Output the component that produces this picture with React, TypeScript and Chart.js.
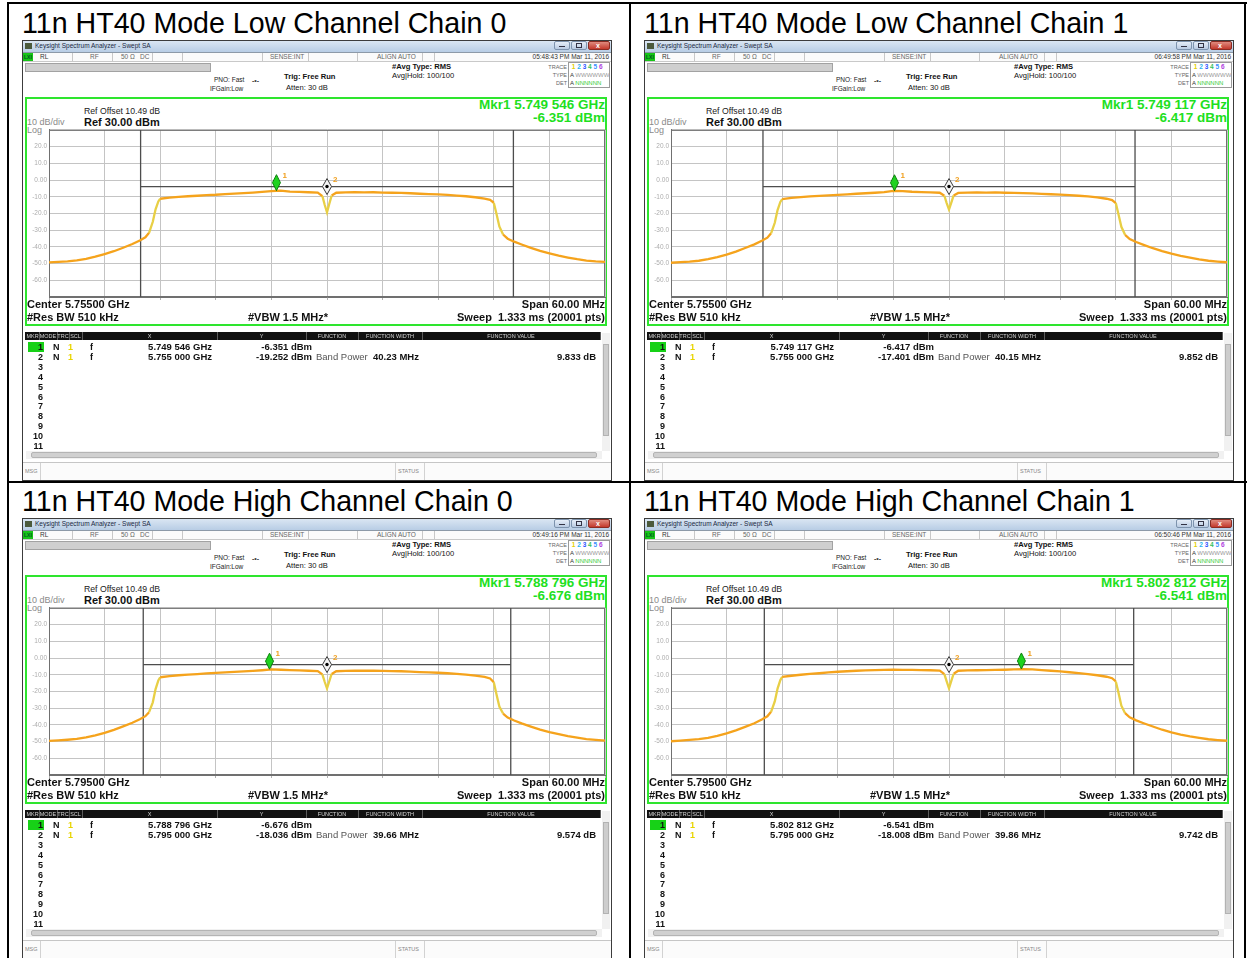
import React, { useEffect, useRef } from "react";
import { Chart, registerables } from "chart.js";
Chart.register(...registerables);

const FONT = '"Liberation Sans", Arial, Helvetica, sans-serif';

// ---------- panel meta ----------
const PANEL_TITLES = [
  "11n HT40 Mode Low Channel Chain 0",
  "11n HT40 Mode Low Channel Chain 1",
  "11n HT40 Mode High Channel Chain 0",
  "11n HT40 Mode High Channel Chain 1",
];
const CENTER_GHZ = [5.755, 5.755, 5.795, 5.795];
const TIMESTAMPS = [
  "05:48:43 PM Mar 11, 2016",
  "06:49:58 PM Mar 11, 2016",
  "05:49:16 PM Mar 11, 2016",
  "06:50:46 PM Mar 11, 2016",
];
const MKR1_FREQ_GHZ = [5.749546, 5.749117, 5.788796, 5.802812];
const MKR1_LEVEL_DBM = [-6.351, -6.417, -6.676, -6.541];
const MKR2_FREQ_GHZ = [5.755, 5.755, 5.795, 5.795];
const MKR2_LEVEL_DBM = [-19.252, -17.401, -18.036, -18.008];
const BAND_WIDTH_MHZ = [40.23, 40.15, 39.66, 39.86];
const BAND_POWER_DB = [9.833, 9.852, 9.574, 9.742];
const BAND_LINE_DBM = [-3.9, -3.9, -3.9, -3.9];
const SPAN_MHZ = 60;
const REF_LEVEL_DBM = 30;
const DB_PER_DIV = 10;
const Y_TICK_VALUES = [20, 10, 0, -10, -20, -30, -40, -50, -60];
const Y_TICK_LABELS = ["20.0", "10.0", "0.00", "-10.0", "-20.0", "-30.0", "-40.0", "-50.0", "-60.0"];

// ---------- trace data (offset from centre, MHz) ----------
const OFFSETS_MHZ = [
  -30, -29, -28, -27, -26, -25, -24, -23, -22, -21,
  -20.2, -19.6, -19.2, -18.8, -18.5, -18.2, -18,
  -17, -16, -15, -14, -13, -12, -11, -10, -9, -8, -7, -6, -5, -4, -3, -2, -1,
  -0.5, -0.25, 0, 0.25, 0.5,
  1, 2, 3, 4, 5, 6, 7, 8, 9, 10, 11, 12, 13, 14, 15, 16, 17,
  17.6, 18, 18.3, 18.6, 19, 19.5, 20.2,
  21, 22, 23, 24, 25, 26, 27, 28, 29, 30,
];
const TL_LEVELS = [
  -49.3, -49.0, -48.7, -48.1, -47.2, -45.9, -44.3, -42.6, -40.5, -38.3,
  -36.2, -34.3, -31.6, -25.0, -17.5, -12.8, -11.2,
  -10.5, -10.1, -9.7, -9.4, -9.0, -8.8, -8.4, -8.1, -7.8, -7.5, -7.1, -6.6, -6.4, -6.9, -7.1, -7.3, -7.5,
  -9.6, -14.8, -19.3, -14.2, -9.3,
  -7.6, -7.4, -7.3, -7.4, -7.3, -7.5, -7.6, -7.7, -7.9, -8.2, -8.4, -8.6, -8.9, -9.3, -9.7, -10.3, -11.1,
  -11.9, -13.6, -20.5, -27.8, -32.6, -35.1, -36.9,
  -38.6, -40.6, -42.4, -43.9, -45.3, -46.4, -47.4, -48.2, -48.7, -49.0,
];
const TR_LEVELS = [
  -49.5, -49.1, -48.8, -48.3, -47.4, -46.1, -44.6, -42.8, -40.7, -38.5,
  -36.4, -34.5, -31.9, -25.6, -18.0, -13.1, -11.4,
  -10.7, -10.2, -9.8, -9.5, -9.2, -8.9, -8.6, -8.2, -7.9, -7.6, -7.2, -6.5, -6.6, -7.0, -7.2, -7.4, -7.6,
  -9.4, -13.8, -17.6, -13.5, -9.2,
  -7.7, -7.5, -7.4, -7.5, -7.4, -7.6, -7.7, -7.8, -8.0, -8.3, -8.5, -8.7, -9.0, -9.4, -9.8, -10.4, -11.2,
  -12.0, -13.8, -20.8, -28.0, -32.8, -35.3, -37.1,
  -38.8, -40.8, -42.6, -44.1, -45.4, -46.5, -47.5, -48.3, -48.8, -49.2,
];
const BL_LEVELS = [
  -49.6, -49.3, -48.9, -48.4, -47.5, -46.3, -44.8, -43.0, -40.9, -38.7,
  -36.6, -34.8, -32.4, -26.5, -18.6, -13.4, -11.5,
  -10.8, -10.3, -9.9, -9.6, -9.2, -8.9, -8.6, -8.3, -8.0, -7.7, -7.3, -6.8, -7.0, -7.2, -7.4, -7.6, -7.8,
  -9.8, -14.2, -18.2, -13.9, -9.5,
  -7.9, -7.7, -7.6, -7.6, -7.5, -7.7, -7.8, -7.9, -8.1, -8.4, -8.6, -8.8, -9.1, -9.5, -9.9, -10.5, -11.3,
  -12.2, -14.5, -22.0, -29.0, -33.2, -35.6, -37.4,
  -39.1, -41.0, -42.8, -44.3, -45.6, -46.8, -47.7, -48.5, -49.0, -49.4,
];
const BR_LEVELS = [
  -49.8, -49.4, -49.0, -48.5, -47.8, -46.6, -45.1, -43.3, -41.2, -39.0,
  -36.8, -34.9, -32.2, -26.0, -18.3, -13.2, -11.3,
  -10.6, -10.0, -9.5, -9.1, -8.6, -8.2, -7.9, -7.6, -7.4, -7.2, -7.1, -7.0, -7.1, -7.1, -7.2, -7.3, -7.5,
  -9.6, -14.0, -18.1, -13.7, -9.4,
  -7.6, -7.4, -7.3, -7.2, -7.1, -7.0, -6.8, -6.6, -6.8, -7.2, -7.6, -8.0, -8.5, -9.0, -9.6, -10.3, -11.2,
  -12.1, -14.0, -21.0, -28.5, -33.0, -35.5, -37.3,
  -39.0, -41.0, -42.9, -44.5, -45.8, -46.9, -47.8, -48.6, -49.1, -49.5,
];
const LEVELS = [TL_LEVELS, TR_LEVELS, BL_LEVELS, BR_LEVELS];

// ---------- layout ----------
const WINDOW_ORIGINS: [number, number][] = [[22, 40], [644, 40], [22, 518], [644, 518]];
const W = 590;
const H = 441;

const fmtGHz = (v: number) => {
  const s = v.toFixed(6);
  return `${s.slice(0, 5)} ${s.slice(5)} GHz`;
};
const fmtDbm = (v: number) => `${v.toFixed(3)} dBm`;
const fmtCenter = (v: number) => `${v.toFixed(5)} GHz`;

type TP = {
  x: number; y: number; s: number; b?: boolean; c?: string; r?: boolean; children: React.ReactNode;
};
function T({ x, y, s, b, c = "#111", r, children }: TP) {
  const lh = Math.round(s * 1.3);
  const style: React.CSSProperties = {
    position: "absolute", top: y - lh / 2, fontSize: s, lineHeight: `${lh}px`,
    fontWeight: b ? 700 : 400, color: c, whiteSpace: "pre", fontFamily: FONT,
  };
  if (r) style.right = W - x; else style.left = x;
  return <div style={style}>{children}</div>;
}

function Box(p: { l: number; t: number; w: number; h: number; bg?: string; bd?: string; extra?: React.CSSProperties }) {
  return (
    <div style={{
      position: "absolute", left: p.l, top: p.t, width: p.w, height: p.h, background: p.bg,
      border: p.bd, boxSizing: "border-box", ...(p.extra || {}),
    }} />
  );
}

function Trace({ i }: { i: number }) {
  const ref = useRef<HTMLCanvasElement>(null);
  useEffect(() => {
    const levels = LEVELS[i];
    const half = BAND_WIDTH_MHZ[i] / 2;
    const m1x = (MKR1_FREQ_GHZ[i] - CENTER_GHZ[i]) * 1000;
    const m2x = (MKR2_FREQ_GHZ[i] - CENTER_GHZ[i]) * 1000;
    const top = REF_LEVEL_DBM;
    const bottom = REF_LEVEL_DBM - DB_PER_DIV * 10;
    const ORANGE = "#f5a31c";
    const YELLOW = "#e8cf45";
    const BAND = "#4d4d4d";

    const overlay = {
      id: "overlay",
      beforeDatasetsDraw(chart: any) {
        const { ctx, chartArea: a } = chart;
        ctx.save();
        ctx.strokeStyle = "#707070";
        ctx.lineWidth = 1;
        ctx.strokeRect(a.left + 0.5, a.top + 0.5, a.right - a.left - 1, a.bottom - a.top - 1);
        ctx.restore();
      },
      afterDatasetsDraw(chart: any) {
        const { ctx, scales } = chart;
        const x = scales.x, y = scales.y;
        ctx.save();
        const px = x.getPixelForValue(m1x);
        const py = y.getPixelForValue(MKR1_LEVEL_DBM[i]);
        ctx.beginPath();
        ctx.moveTo(px, py - 16);
        ctx.lineTo(px + 4, py - 8);
        ctx.lineTo(px, py);
        ctx.lineTo(px - 4, py - 8);
        ctx.closePath();
        ctx.fillStyle = "#1fd21f";
        ctx.fill();
        ctx.strokeStyle = "#0d800d";
        ctx.lineWidth = 1;
        ctx.stroke();
        ctx.fillStyle = "#f0a020";
        ctx.font = `bold 8px ${FONT}`;
        ctx.textBaseline = "middle";
        ctx.fillText("1", px + 6, py - 15);
        const qx = x.getPixelForValue(m2x);
        const qy = y.getPixelForValue(BAND_LINE_DBM[i]);
        ctx.beginPath();
        ctx.moveTo(qx, qy - 8);
        ctx.lineTo(qx + 4.5, qy);
        ctx.lineTo(qx, qy + 8);
        ctx.lineTo(qx - 4.5, qy);
        ctx.closePath();
        ctx.fillStyle = "#f4f4f4";
        ctx.fill();
        ctx.strokeStyle = "#3a3a3a";
        ctx.stroke();
        ctx.beginPath();
        ctx.arc(qx, qy, 1.7, 0, Math.PI * 2);
        ctx.fillStyle = "#000";
        ctx.fill();
        ctx.fillStyle = "#f0a020";
        ctx.fillText("2", qx + 6, qy - 7);
        ctx.restore();
      },
    };

    const chart = new Chart(ref.current as HTMLCanvasElement, {
      type: "line",
      data: {
        datasets: [
          {
            label: "Trace 1",
            data: OFFSETS_MHZ.map((o, k) => ({ x: o, y: levels[k] })),
            borderColor: ORANGE,
            borderWidth: 2.3,
            pointRadius: 0,
            tension: 0,
            order: 0,
            segment: {
              borderColor: (c: any) => {
                const dx = Math.abs(c.p1.parsed.x - c.p0.parsed.x);
                const dy = Math.abs(c.p1.parsed.y - c.p0.parsed.y);
                return dy / dx > 8 ? YELLOW : undefined;
              },
            },
          } as any,
          {
            label: "Band left",
            data: [{ x: -half, y: top }, { x: -half, y: bottom }],
            borderColor: BAND, borderWidth: 1.3, pointRadius: 0, order: 1,
          },
          {
            label: "Band right",
            data: [{ x: half, y: top }, { x: half, y: bottom }],
            borderColor: BAND, borderWidth: 1.3, pointRadius: 0, order: 1,
          },
          {
            label: "Band level",
            data: [{ x: -half, y: BAND_LINE_DBM[i] }, { x: half, y: BAND_LINE_DBM[i] }],
            borderColor: BAND, borderWidth: 1.3, pointRadius: 0, order: 1,
          },
        ],
      },
      options: {
        animation: false,
        responsive: false,
        events: [],
        layout: { padding: { top: 4, right: 2, left: 0, bottom: 0 } },
        plugins: { legend: { display: false }, tooltip: { enabled: false } },
        scales: {
          x: {
            type: "linear",
            min: -SPAN_MHZ / 2,
            max: SPAN_MHZ / 2,
            ticks: { display: false, stepSize: SPAN_MHZ / 10 },
            grid: { color: "#c4c4c4", tickLength: 3, tickColor: "#b0b0b0" },
            border: { color: "#707070" },
            afterFit: (s: any) => { s.height = 6; },
          } as any,
          y: {
            type: "linear",
            min: bottom,
            max: top,
            ticks: {
              stepSize: DB_PER_DIV,
              padding: 2,
              color: "#adadad",
              font: { size: 6.5, family: FONT },
              callback: (v: any) => {
                const k = Y_TICK_VALUES.indexOf(Number(v));
                return k >= 0 ? Y_TICK_LABELS[k] : "";
              },
            },
            grid: { color: "#c4c4c4", drawTicks: false },
            border: { color: "#707070" },
            afterFit: (s: any) => { s.width = 22; },
          } as any,
        },
      },
      plugins: [overlay],
    });
    return () => chart.destroy();
  }, [i]);
  return (
    <canvas
      ref={ref}
      width={580}
      height={179}
      style={{ position: "absolute", left: 5, top: 84, width: 580, height: 179 }}
    />
  );
}

const HEADER_COLS: [string, number, number][] = [
  ["MKR", 4, 17], ["MODE", 17, 35], ["TRC", 35, 47], ["SCL", 47, 60], ["X", 60, 195],
  ["Y", 195, 284], ["FUNCTION", 284, 336], ["FUNCTION WIDTH", 336, 400], ["FUNCTION VALUE", 400, 578],
];
const TRACE_NUM_COLORS = ["#e3d000", "#2ab4f0", "#2f55ff", "#35c060", "#3a90ff", "#b040e0"];

function Panel({ i }: { i: number }) {
  const [ox, oy] = WINDOW_ORIGINS[i];
  const rowY = (k: number) => 307 + (k - 1) * 9.9;
  const rows = [1, 2, 3, 4, 5, 6, 7, 8, 9, 10, 11];
  return (
    <>
      <div style={{
        position: "absolute", left: ox, top: oy - 33, fontSize: 28.6, lineHeight: "32px",
        whiteSpace: "pre", color: "#000", fontFamily: FONT,
      }}>{PANEL_TITLES[i]}</div>
      <div style={{ position: "absolute", left: ox, top: oy, width: W, height: H, background: "#fff", overflow: "hidden" }}>
        {/* window title bar */}
        <Box l={0} t={0} w={W} h={12} bg="linear-gradient(#dde8f4,#b8cde5)" />
        <Box l={3} t={3} w={7} h={6} bg="#4b5a3c" />
        <T x={13} y={6} s={6.5} c="#1b2a44">Keysight Spectrum Analyzer - Swept SA</T>
        <Box l={532} t={1} w={16} h={9} bg="linear-gradient(#e6eef8,#b9cbe2)" bd="1px solid #7d93ad" extra={{ borderRadius: 2 }} />
        <Box l={537} t={6} w={6} h={1} bg="#334" />
        <Box l={549} t={1} w={16} h={9} bg="linear-gradient(#e6eef8,#b9cbe2)" bd="1px solid #7d93ad" extra={{ borderRadius: 2 }} />
        <Box l={554} t={3} w={6} h={5} bd="1px solid #334" />
        <Box l={566} t={1} w={22} h={9} bg="linear-gradient(#e08a7e,#c3392c)" bd="1px solid #8a2b22" extra={{ borderRadius: 2 }} />
        <T x={574} y={5.5} s={7} b c="#fff">x</T>
        {/* status row */}
        <Box l={0} t={12} w={W} h={10} bg="#fbfbfb" extra={{ borderTop: "1px solid #8d9aa8", borderBottom: "1px solid #c9c9c9" }} />
        <Box l={1} t={13} w={10} h={8} bg="#17c417" />
        <T x={2} y={17} s={5} b c="#052">LXI</T>
        <T x={18} y={17} s={6.5} c="#333">RL</T>
        <T x={68} y={17} s={6.5} c="#666">RF</T>
        <T x={99} y={17} s={6.5} c="#666">50 Ω</T>
        <T x={118} y={17} s={6.5} c="#666">DC</T>
        <T x={248} y={17} s={6.5} c="#666">SENSE:INT</T>
        <T x={355} y={17} s={6.5} c="#666">ALIGN AUTO</T>
        <T x={587} y={17} s={6.5} r c="#333">{TIMESTAMPS[i]}</T>
        {[50, 90, 130, 160, 240, 286, 335, 400, 412].map((sx) => (
          <Box key={sx} l={sx} t={13} w={1} h={8} bg="#c8c8c8" />
        ))}
        {/* gray bar + settings */}
        <Box l={3} t={23} w={186} h={9} bg="#cfcfcf" bd="1px solid #a2a2a2" />
        <T x={192} y={40} s={6.5} c="#222">PNO: Fast</T>
        <T x={230} y={40} s={7} b c="#444">{"-\u2022-"}</T>
        <T x={188} y={49} s={6.5} c="#222">IFGain:Low</T>
        <T x={262} y={37} s={7.6} b c="#111">Trig: Free Run</T>
        <T x={264} y={48} s={7.6} c="#111">Atten: 30 dB</T>
        <T x={370} y={27} s={7.6} b c="#111">#Avg Type: RMS</T>
        <T x={370} y={36} s={7.6} c="#111">{"Avg|Hold: 100/100"}</T>
        <T x={545} y={27} s={5.5} r c="#666">TRACE</T>
        <T x={545} y={35} s={5.5} r c="#666">TYPE</T>
        <T x={545} y={43} s={5.5} r c="#666">DET</T>
        <Box l={546} t={22} w={42} h={26} bg="#fff" bd="1px solid #9a9a9a" />
        <div style={{ position: "absolute", left: 548, top: 23, fontSize: 6.5, lineHeight: "8px", fontFamily: FONT, fontWeight: 700, whiteSpace: "pre" }}>
          {["1", "2", "3", "4", "5", "6"].map((n, k) => (
            <span key={n} style={{ color: TRACE_NUM_COLORS[k] }}>{" " + n}</span>
          ))}
        </div>
        <T x={548} y={35} s={6} c="#333">A <span style={{ color: "#999" }}>WWWWWW</span></T>
        <T x={548} y={43} s={6} c="#333">A <span style={{ color: "#3c3" }}>NNNNNN</span></T>
        {/* measurement frame */}
        <Box l={3} t={57} w={582} h={229} bd="2px solid #2ee52e" />
        <T x={62} y={71} s={8.7} c="#222">Ref Offset 10.49 dB</T>
        <T x={5} y={82} s={9} c="#8a8a8a">10 dB/div</T>
        <T x={62} y={82} s={11} b c="#111">Ref 30.00 dBm</T>
        <T x={5} y={90} s={9} c="#8a8a8a">Log</T>
        <T x={583} y={65} s={13.5} b r c="#1ee01e">{`Mkr1 ${fmtGHz(MKR1_FREQ_GHZ[i])}`}</T>
        <T x={583} y={78} s={13.5} b r c="#1ee01e">{fmtDbm(MKR1_LEVEL_DBM[i])}</T>
        <Trace i={i} />
        <T x={5} y={264} s={11} b c="#111">{`Center ${fmtCenter(CENTER_GHZ[i])}`}</T>
        <T x={5} y={277} s={11} b c="#111">#Res BW 510 kHz</T>
        <T x={226} y={277} s={11} b c="#111">#VBW 1.5 MHz*</T>
        <T x={583} y={264} s={11} b r c="#111">{`Span ${SPAN_MHZ.toFixed(2)} MHz`}</T>
        <T x={583} y={277} s={11} b r c="#111">{"Sweep  1.333 ms (20001 pts)"}</T>
        {/* marker table */}
        <Box l={3} t={292} w={575} h={8} bg="#111" />
        {HEADER_COLS.map(([lab, a, b]) => (
          <React.Fragment key={lab}>
            <Box l={b} t={292} w={1} h={8} bg="#5c5c5c" />
            <div style={{
              position: "absolute", left: a, width: b - a, top: 292, height: 8, lineHeight: "8px", fontSize: 5.5,
              color: "#d4d4d4", textAlign: "center", fontFamily: FONT, whiteSpace: "pre", overflow: "hidden",
            }}>{lab}</div>
          </React.Fragment>
        ))}
        <Box l={580} t={293} w={8} h={118} bg="#f1f1f1" />
        <Box l={581} t={304} w={6} h={92} bg="#cdcdcd" bd="1px solid #b2b2b2" />
        <Box l={6} t={rowY(1) - 5} w={16} h={10} bg="#17d117" />
        {rows.map((k) => (
          <T key={k} x={21} y={rowY(k)} s={9} b r c="#111">{String(k)}</T>
        ))}
        {[1, 2].map((k) => (
          <React.Fragment key={k}>
            <T x={31} y={rowY(k)} s={9} b c="#111">N</T>
            <T x={46} y={rowY(k)} s={9} b c="#e8d400">1</T>
            <T x={68} y={rowY(k)} s={9} b c="#111">f</T>
          </React.Fragment>
        ))}
        <T x={190} y={rowY(1)} s={9.5} b r c="#111">{fmtGHz(MKR1_FREQ_GHZ[i])}</T>
        <T x={290} y={rowY(1)} s={9.5} b r c="#111">{fmtDbm(MKR1_LEVEL_DBM[i])}</T>
        <T x={190} y={rowY(2)} s={9.5} b r c="#111">{fmtGHz(MKR2_FREQ_GHZ[i])}</T>
        <T x={290} y={rowY(2)} s={9.5} b r c="#111">{fmtDbm(MKR2_LEVEL_DBM[i])}</T>
        <T x={294} y={rowY(2)} s={9.5} c="#555">Band Power</T>
        <T x={351} y={rowY(2)} s={9.5} b c="#111">{`${BAND_WIDTH_MHZ[i].toFixed(2)} MHz`}</T>
        <T x={574} y={rowY(2)} s={9.5} b r c="#111">{`${BAND_POWER_DB[i].toFixed(3)} dB`}</T>
        {/* horizontal scrollbar */}
        <Box l={4} t={411} w={576} h={8} bg="#f1f1f1" />
        <Box l={9} t={412} w={566} h={6} bg="#d0d0d0" bd="1px solid #b4b4b4" extra={{ borderRadius: 2 }} />
        {/* message bar */}
        <Box l={0} t={422} w={W} h={19} bg="#fbfbfb" extra={{ borderTop: "1px solid #c6c6c6" }} />
        <Box l={18} t={423} w={1} h={17} bg="#d2d2d2" />
        <Box l={373} t={423} w={1} h={17} bg="#d2d2d2" />
        <Box l={402} t={423} w={1} h={17} bg="#d2d2d2" />
        <T x={3} y={431} s={5.5} c="#888">MSG</T>
        <T x={376} y={431} s={5.5} c="#888">STATUS</T>
        {/* window border */}
        <Box l={0} t={0} w={W} h={H} bd="1px solid #3c3c3c" />
      </div>
    </>
  );
}

export default function App() {
  return (
    <div style={{
      position: "absolute", left: 0, top: 0, width: 1247, height: 958, background: "#fff",
      overflow: "hidden", fontFamily: FONT,
    }}>
      <Box l={7} t={2} w={1240} h={2} bg="#000" />
      <Box l={7} t={2} w={2} h={956} bg="#000" />
      <Box l={629} t={2} w={2} h={956} bg="#000" />
      <Box l={1244} t={2} w={2} h={956} bg="#000" />
      <Box l={7} t={481} w={1240} h={2} bg="#000" />
      {[0, 1, 2, 3].map((i) => (
        <Panel key={i} i={i} />
      ))}
    </div>
  );
}
